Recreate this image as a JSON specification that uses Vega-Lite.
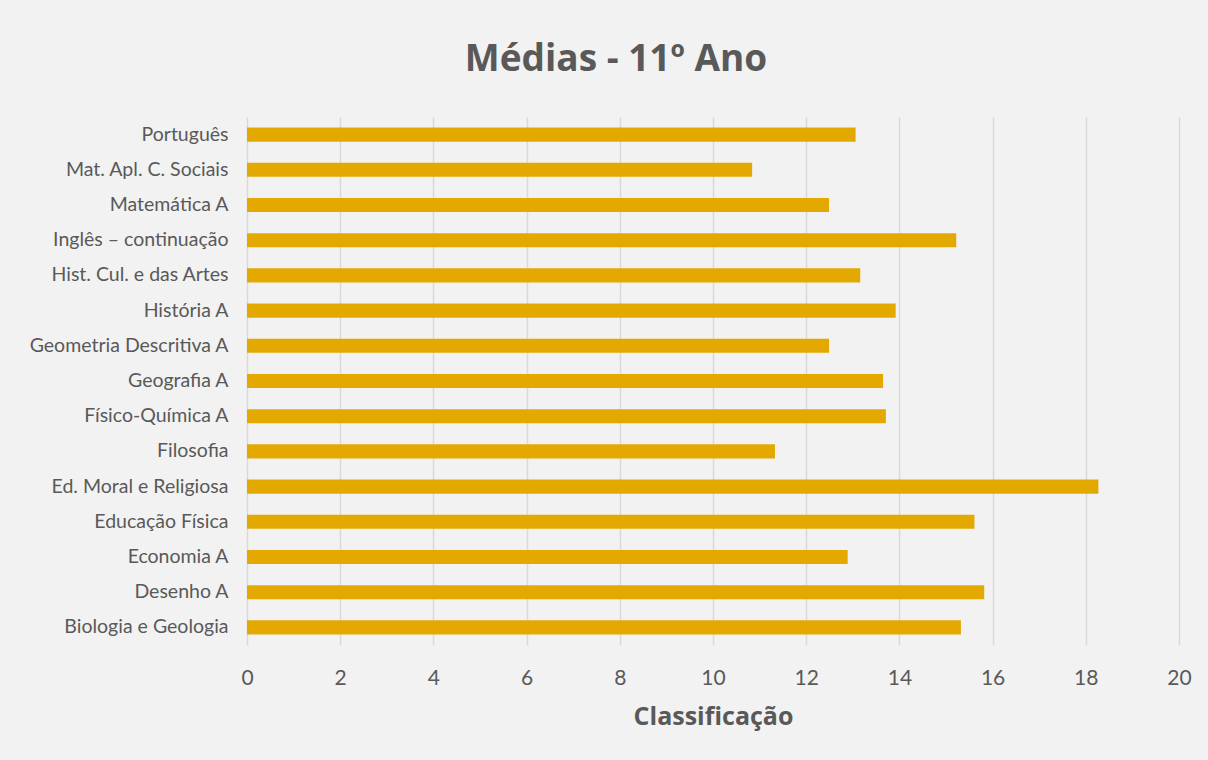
{
  "$schema": "https://vega.github.io/schema/vega-lite/v6.json",
  "width": 932,
  "height": 528,
  "autosize": {"type": "none"},
  "padding": {"left": 247, "top": 117, "right": 29, "bottom": 115},
  "background": "#f2f2f2",
  "config": {"view": {"stroke": null}, "font": "Lato"},
  "title": {
    "text": "Médias - 11º Ano",
    "fontSize": 37,
    "fontWeight": "bold",
    "color": "#595959",
    "font": "Open Sans",
    "anchor": "middle",
    "dx": -97,
    "offset": 38
  },
  "data": {
    "values": [
      {"disciplina": "Português", "media": 13.06},
      {"disciplina": "Mat. Apl. C. Sociais", "media": 10.84},
      {"disciplina": "Matemática A", "media": 12.49},
      {"disciplina": "Inglês – continuação", "media": 15.22},
      {"disciplina": "Hist. Cul. e das Artes", "media": 13.16},
      {"disciplina": "História A", "media": 13.92},
      {"disciplina": "Geometria Descritiva A", "media": 12.49},
      {"disciplina": "Geografia A", "media": 13.65},
      {"disciplina": "Físico-Química A", "media": 13.71},
      {"disciplina": "Filosofia", "media": 11.33},
      {"disciplina": "Ed. Moral e Religiosa", "media": 18.27},
      {"disciplina": "Educação Física", "media": 15.61},
      {"disciplina": "Economia A", "media": 12.89},
      {"disciplina": "Desenho A", "media": 15.82},
      {"disciplina": "Biologia e Geologia", "media": 15.32}
    ]
  },
  "mark": {"type": "bar", "color": "#E3A900", "height": {"band": 0.4}},
  "encoding": {
    "y": {
      "field": "disciplina",
      "type": "nominal",
      "sort": null,
      "title": null,
      "scale": {"paddingInner": 0, "paddingOuter": 0},
      "axis": {
        "domain": false,
        "ticks": false,
        "grid": false,
        "labelPadding": 19,
        "labelFontSize": 19.5,
        "labelColor": "#595959",
        "labelLimit": 400
      }
    },
    "x": {
      "field": "media",
      "type": "quantitative",
      "scale": {"domain": [0, 20], "nice": false},
      "title": "Classificação",
      "axis": {
        "values": [0, 2, 4, 6, 8, 10, 12, 14, 16, 18, 20],
        "domain": false,
        "ticks": false,
        "grid": true,
        "gridColor": "#d9d9d9",
        "gridWidth": 1.5,
        "labelFlush": false,
        "labelPadding": 22,
        "labelFontSize": 21,
        "labelColor": "#595959",
        "titleFontSize": 25,
        "titleFontWeight": "bold",
        "titleColor": "#595959",
        "titleFont": "Open Sans",
        "titlePadding": 16
      }
    }
  }
}
